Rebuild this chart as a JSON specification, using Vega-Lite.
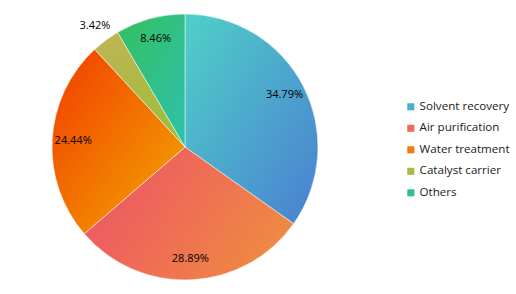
{
  "$schema": "https://vega.github.io/schema/vega-lite/v6.json",
  "width": 266,
  "height": 266,
  "padding": {"left": 51, "top": 13, "right": 0, "bottom": 0},
  "background": "white",
  "config": {"view": {"stroke": null}, "font": "Open Sans"},
  "data": {
    "values": [
      {"category": "Solvent recovery", "share": 34.79, "idx": 1},
      {"category": "Air purification", "share": 28.89, "idx": 2},
      {"category": "Water treatment", "share": 24.44, "idx": 3},
      {"category": "Catalyst carrier", "share": 3.42, "idx": 4},
      {"category": "Others", "share": 8.46, "idx": 5}
    ]
  },
  "encoding": {
    "theta": {"field": "share", "type": "quantitative", "stack": true},
    "order": {"field": "idx", "type": "quantitative"}
  },
  "layer": [
    {
      "mark": {
        "type": "arc",
        "outerRadius": 133,
        "stroke": "#ffffff",
        "strokeWidth": 0.5,
        "fill": {"expr": "datum.category === 'Solvent recovery' ? {gradient: 'linear', x1: 0, y1: 0, x2: 1, y2: 1, stops: [{offset: 0, color: '#4fd0c8'}, {offset: 1, color: '#4a7fd1'}]} : datum.category === 'Air purification' ? {gradient: 'linear', x1: 0, y1: 0.3, x2: 1, y2: 0.7, stops: [{offset: 0, color: '#ee5566'}, {offset: 1, color: '#ef8c40'}]} : datum.category === 'Water treatment' ? {gradient: 'linear', x1: 0, y1: 0, x2: 1, y2: 1, stops: [{offset: 0, color: '#f23c00'}, {offset: 1, color: '#f2aa00'}]} : datum.category === 'Catalyst carrier' ? {gradient: 'linear', x1: 0, y1: 0, x2: 0, y2: 1, stops: [{offset: 0, color: '#c0b452'}, {offset: 1, color: '#98c03a'}]} : {gradient: 'linear', x1: 0, y1: 0, x2: 1, y2: 1, stops: [{offset: 0, color: '#35c060'}, {offset: 1, color: '#2ec0ac'}]}"}
      }
    },
    {
      "mark": {"type": "arc", "outerRadius": 133, "opacity": 0},
      "encoding": {
        "color": {
          "field": "category",
          "type": "nominal",
          "scale": {
            "domain": ["Solvent recovery", "Air purification", "Water treatment", "Catalyst carrier", "Others"],
            "range": ["#4aaecf", "#ee6a5a", "#f27a10", "#a9b947", "#30c090"]
          },
          "legend": {
            "title": null,
            "orient": "none",
            "legendX": 353,
            "legendY": 87,
            "symbolType": "square",
            "symbolSize": 50,
            "symbolStrokeWidth": 0,
            "symbolOpacity": 1,
            "labelFont": "Open Sans",
            "labelFontSize": 11.6,
            "labelColor": "#1a1a1a",
            "rowPadding": 8.5,
            "labelOffset": 3
          }
        }
      }
    },
    {
      "mark": {"type": "text", "radius": {"expr": "datum.share < 5 ? 151 : 112"}, "font": "Open Sans", "fontSize": 11, "color": "#000000"},
      "encoding": {
        "text": {"field": "label", "type": "nominal"}
      },
      "transform": [{"calculate": "format(datum.share, '.2f') + '%'", "as": "label"}]
    }
  ]
}
